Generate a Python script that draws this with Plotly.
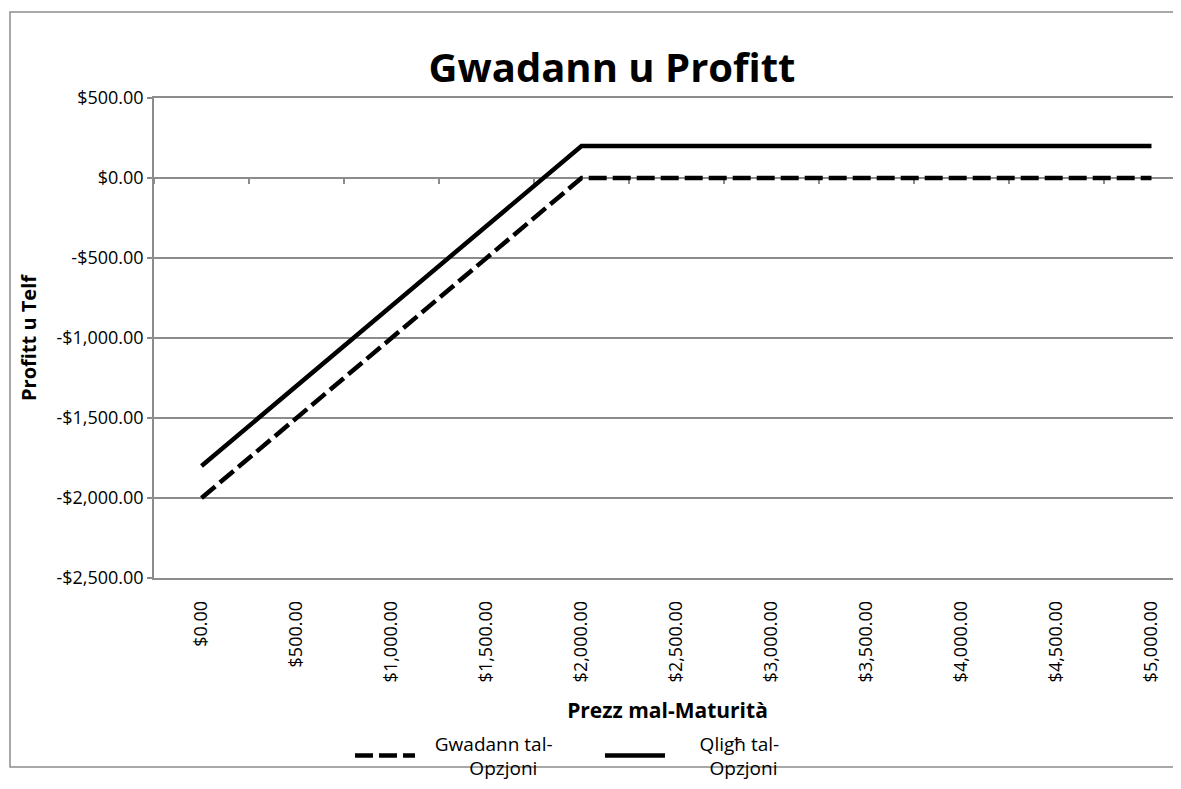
import plotly.graph_objects as go

# Data
prices = ["$0.00", "$500.00", "$1,000.00", "$1,500.00", "$2,000.00", "$2,500.00",
          "$3,000.00", "$3,500.00", "$4,000.00", "$4,500.00", "$5,000.00"]
payoff = [-2000, -1500, -1000, -500, 0, 0, 0, 0, 0, 0, 0]
profit = [-1800, -1300, -800, -300, 200, 200, 200, 200, 200, 200, 200]
y_tickvals = [500, 0, -500, -1000, -1500, -2000, -2500]
y_ticktext = ["$500.00", "$0.00", "-$500.00", "-$1,000.00", "-$1,500.00", "-$2,000.00", "-$2,500.00"]
series_names = ["\u00a0\u00a0\u00a0Gwadann tal-<br>" + "\u00a0" * 10 + "Opzjoni",
                "\u00a0\u00a0\u00a0\u00a0\u00a0\u00a0Qligħ tal-<br>" + "\u00a0" * 8 + "Opzjoni"]

FONT = "Open Sans"
GRID = "#8c8c8c"

W, H = 1173, 781       # page body has an 8px margin
L, T, PH = 146, 90, 480
B = H - T - PH
PW = W - L
CAT = 95.0             # pixel width of one category in the reference

fig = go.Figure()
fig.add_trace(go.Scatter(x=prices, y=payoff, mode="lines", name=series_names[0],
                         line=dict(color="black", width=4.5, dash="18px,6px")))
fig.add_trace(go.Scatter(x=prices, y=profit, mode="lines", name=series_names[1],
                         line=dict(color="black", width=4.5)))

xr = [-0.5, -0.5 + PW / CAT]
fig.update_layout(
    width=W, height=H,
    margin=dict(l=L, r=0, t=T, b=B, autoexpand=False),
    paper_bgcolor="white", plot_bgcolor="white",
    font=dict(family=FONT, color="black"),
    title=dict(text="<b>Gwadann u Profitt</b>", x=(612 - 8) / W, xanchor="center",
               y=1 - 60 / H, yanchor="middle", font=dict(size=40, family=FONT)),
    showlegend=True,
    legend=dict(orientation="h", x=(600 - 8 - L) / PW, xanchor="center", y=-0.305, yanchor="top",
                font=dict(size=19, family=FONT), itemwidth=60, bgcolor="rgba(0,0,0,0)",
                traceorder="normal", tracegroupgap=0,
                entrywidth=175, entrywidthmode="pixels"),
    xaxis=dict(type="category", range=xr, tickangle=-90, showgrid=False, automargin=False,
               showline=True, mirror=True, linecolor=GRID, linewidth=1.5,
               ticks="", ticklabelstandoff=14, tickfont=dict(size=18, family=FONT),
               title=dict(text="<b>Prezz mal-Maturità</b>", font=dict(size=21, family=FONT),
                          standoff=22)),
    xaxis2=dict(overlaying="x", anchor="free", position=2500 / 3000, range=xr,
                tickvals=[i + 0.5 for i in range(-1, 11)], ticks="outside", ticklen=5,
                tickcolor=GRID, tickwidth=1.5, showticklabels=False, showgrid=False,
                showline=False, zeroline=False, automargin=False, layer="below traces"),
    yaxis=dict(range=[-2500, 500], tickvals=y_tickvals, ticktext=y_ticktext,
               showgrid=True, gridcolor=GRID, gridwidth=1.5, zeroline=False, automargin=False,
               showline=True, linecolor=GRID, linewidth=1.5,
               ticks="outside", ticklen=5, tickcolor=GRID, tickwidth=1.5,
               tickfont=dict(size=18, family=FONT),
               title=dict(text="<b>Profitt u Telf</b>", font=dict(size=20, family=FONT),
                          standoff=14)),
)
# dummy trace to activate xaxis2 (no visible data)
fig.add_trace(go.Scatter(x=[None], y=[None], xaxis="x2", showlegend=False, hoverinfo="skip"))

# outer chart border (left, top, bottom; right side is beyond the picture)
bx0 = (2 - L) / PW
bx1 = 1.0
by0 = -(759 - (T + PH)) / PH
by1 = 1 + (T - 4) / PH
fig.add_shape(type="path", xref="paper", yref="paper",
              path=f"M {bx1},{by1} L {bx0},{by1} L {bx0},{by0} L {bx1},{by0}",
              line=dict(color=GRID, width=1.5), layer="below")

fig.write_html("out.html")
